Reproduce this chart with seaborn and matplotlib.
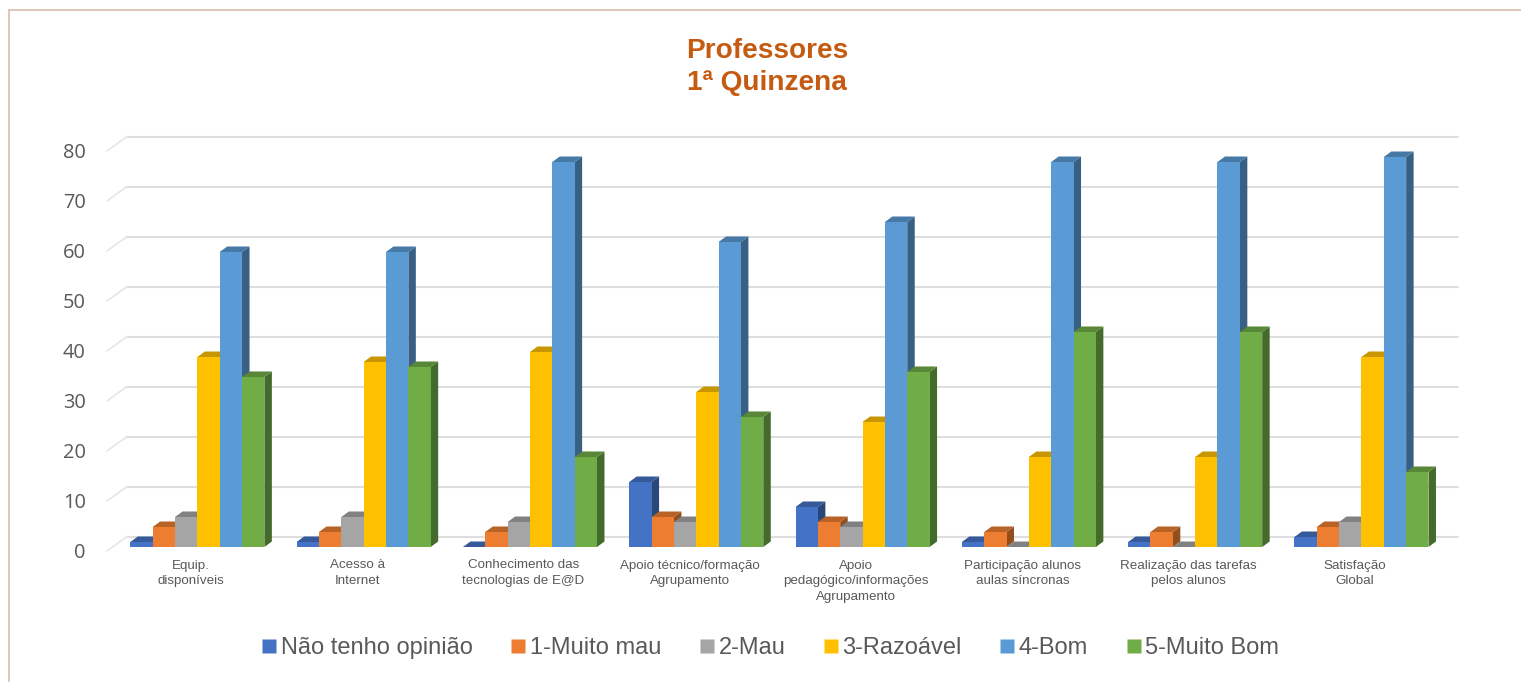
import pandas as pd
import matplotlib
matplotlib.use('Agg')
import matplotlib.pyplot as plt
import seaborn as sns
from matplotlib.colors import to_rgb
from matplotlib.lines import Line2D
from matplotlib.patches import Polygon
from matplotlib.transforms import ScaledTranslation

categories = ['Equip.\ndisponíveis', 'Acesso à\nInternet', 'Conhecimento das\ntecnologias de E@D',
              'Apoio técnico/formação\nAgrupamento', 'Apoio\npedagógico/informações\nAgrupamento',
              'Participação alunos\naulas síncronas', 'Realização das tarefas\npelos alunos', 'Satisfação\nGlobal']
series_names = ['Não tenho opinião', '1-Muito mau', '2-Mau', '3-Razoável', '4-Bom', '5-Muito Bom']
sem_opiniao = [1, 1, 0, 13, 8, 1, 1, 2]
muito_mau = [4, 3, 3, 6, 5, 3, 3, 4]
mau = [6, 6, 5, 5, 4, 0, 0, 5]
razoavel = [38, 37, 39, 31, 25, 18, 18, 38]
bom = [59, 59, 77, 61, 65, 77, 77, 78]
muito_bom = [34, 36, 18, 26, 35, 43, 43, 15]
y_ticks = [0, 10, 20, 30, 40, 50, 60, 70, 80]
colors = ['#4472C4', '#ED7D31', '#A5A5A5', '#FFC000', '#5B9BD5', '#70AD47']

df = pd.DataFrame({'categoria': categories, series_names[0]: sem_opiniao, series_names[1]: muito_mau,
                   series_names[2]: mau, series_names[3]: razoavel, series_names[4]: bom,
                   series_names[5]: muito_bom})
long_df = df.melt(id_vars='categoria', var_name='serie', value_name='valor')

W, H = 1521, 682
# plot area in pixels
left, right, y0, y80 = 114.2, 1444.6, 547, 147
px_x = (right - left) / 8
px_y = (y0 - y80) / 80

sns.set_theme(style='white')
plt.rcParams['font.family'] = ['Liberation Sans', 'DejaVu Sans']

fig = plt.figure(figsize=(W / 100, H / 100), dpi=100)
ax = fig.add_axes([left / W, 1 - y0 / H, (right - left) / W, (y0 - y80) / H])

sns.barplot(ax=ax, data=long_df, x='categoria', y='valor', hue='serie', order=categories,
            hue_order=series_names, palette=colors, width=0.806, gap=0, saturation=1,
            linewidth=0, legend=False, errorbar=None)
ax.set_xlim(-0.5, 7.5)
ax.set_ylim(0, 80)
ax.set_xlabel('')
ax.set_ylabel('')
sns.despine(ax=ax, left=True, bottom=True)

# depth of the bars, as in the Excel 3D column look
dx = 7.5 / px_x
dy = 5.5 / px_y
for k, cont in enumerate(ax.containers):
    base = to_rgb(colors[k])
    side = tuple(c * 0.62 for c in base)
    top = tuple(c * 0.78 for c in base)
    for bar in cont:
        x0 = bar.get_x()
        x1 = x0 + bar.get_width()
        h = bar.get_height()
        bar.set_zorder(5 + k + 0.5)
        ax.add_patch(Polygon([(x1, 0), (x1 + dx, dy), (x1 + dx, h + dy), (x1, h)], closed=True,
                             fc=side, ec='none', zorder=5 + k, clip_on=False))
        ax.add_patch(Polygon([(x0, h), (x0 + dx, h + dy), (x1 + dx, h + dy), (x1, h)], closed=True,
                             fc=top, ec='none', zorder=5 + k, clip_on=False))

# back wall gridlines and the slanted wall part
x_back0 = -0.5 + (127 - left) / px_x
x_back1 = -0.5 + (1458 - left) / px_x
x_front = -0.5 + (107 - left) / px_x
for v in y_ticks:
    ax.plot([x_back0, x_back1], [v + 2.1, v + 2.1], color='#DEDEDE', lw=1.5, zorder=1, clip_on=False)
    ax.plot([x_front, x_back0], [v - 0.8, v + 2.1], color='#E6E6E6', lw=1.2, zorder=1, clip_on=False)

ax.set_yticks(y_ticks)
ax.set_yticklabels(y_ticks, fontsize=14.4, color='#595959', family=['Open Sans', 'DejaVu Sans'])
ax.tick_params(axis='y', length=0, pad=20.5)
ax.tick_params(axis='x', length=0, pad=9)
ax.set_xticks(range(len(categories)))
ax.set_xticklabels(categories, fontsize=9.6, color='#595959', linespacing=1.42)
for lab in ax.get_yticklabels():
    lab.set_transform(lab.get_transform() + ScaledTranslation(0, -3 / 100, fig.dpi_scale_trans))
for lab in ax.get_xticklabels():
    lab.set_transform(lab.get_transform() + ScaledTranslation(-6.5 / 100, 0, fig.dpi_scale_trans))

handles = [Line2D([], [], ls='', marker='s', ms=9.6, mfc=c, mec='none') for c in colors]
fig.legend(handles, series_names, loc='center', bbox_to_anchor=(771 / W, 1 - 648 / H), ncol=6, frameon=False,
           fontsize=17, labelcolor='#595959', handlelength=0.55, handletextpad=0.22, columnspacing=1.65)

fig.text(767 / W, 1 - 67 / H, 'Professores\n1ª Quinzena', ha='center', va='center', fontsize=20.2,
         fontweight='bold', color='#C55A11', linespacing=1.25)

# thin tan frame, top and left only
border = '#D8C0B0'
fig.add_artist(Line2D([9 / W, 9 / W], [0, 1 - 10 / H], color=border, lw=1.2))
fig.add_artist(Line2D([9 / W, 1], [1 - 10 / H, 1 - 10 / H], color=border, lw=1.2))

fig.savefig('out.png', dpi=100)
